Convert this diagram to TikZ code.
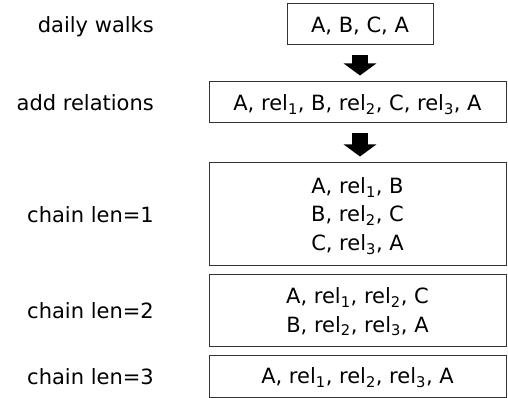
\documentclass[tikz,border=0pt]{standalone}
\usepackage{fontspec}
\setmainfont{DejaVu Sans}
\usetikzlibrary{arrows.meta,positioning}
\tikzset{walkbox/.style={draw=black!80, line width=1pt, minimum width=297pt,
  align=center, text depth=0pt, font=\fontsize{21}{28.5}\selectfont},
  steplabel/.style={anchor=east, inner sep=0pt, text height=17pt,
  text depth=0pt, font=\fontsize{21}{25}\selectfont},
  flowarrow/.style={-{Triangle[width=32pt,length=12pt]}, line width=16pt,
  shorten <=10pt, shorten >=6pt}}
\newcommand{\rl}[1]{rel\textsubscript{#1}}

\begin{document}
\begin{tikzpicture}[x=1pt, y=-1pt]
\useasboundingbox (0,0) rectangle (508,398);
% boxes
\node[walkbox, minimum width=146pt, minimum height=41pt] (walk) at (360,24.5)
  {A, B, C, A};
\node[walkbox, minimum height=41pt] (rels) at (357.5,102.5)
  {A, \rl1, B, \rl2, C, \rl3, A};
\node[walkbox, minimum height=102pt] (len1) at (357.5,214)
  {A, \rl1, B\\ B, \rl2, C\\ C, \rl3, A};
\node[walkbox, minimum height=72pt] (len2) at (357.5,310)
  {A, \rl1, \rl2, C\\ B, \rl2, \rl3, A};
\node[walkbox, minimum height=42pt] (len3) at (357.5,376)
  {A, \rl1, \rl2, \rl3, A};
% labels
\node[steplabel] (lwalk) at (154,0 |- walk) {daily walks};
\node[steplabel] (lrels) at (154,0 |- rels) {add relations};
\node[steplabel] (llen1) at (154,0 |- len1) {chain len=1};
\node[steplabel] (llen2) at (154,0 |- len2) {chain len=2};
\node[steplabel] (llen3) at (154,0 |- len3) {chain len=3};
% arrows
\draw[flowarrow] (walk.south) -- (walk.south |- rels.north);
\draw[flowarrow] (walk.south |- rels.south) -- (walk.south |- len1.north);
\end{tikzpicture}
\end{document}
